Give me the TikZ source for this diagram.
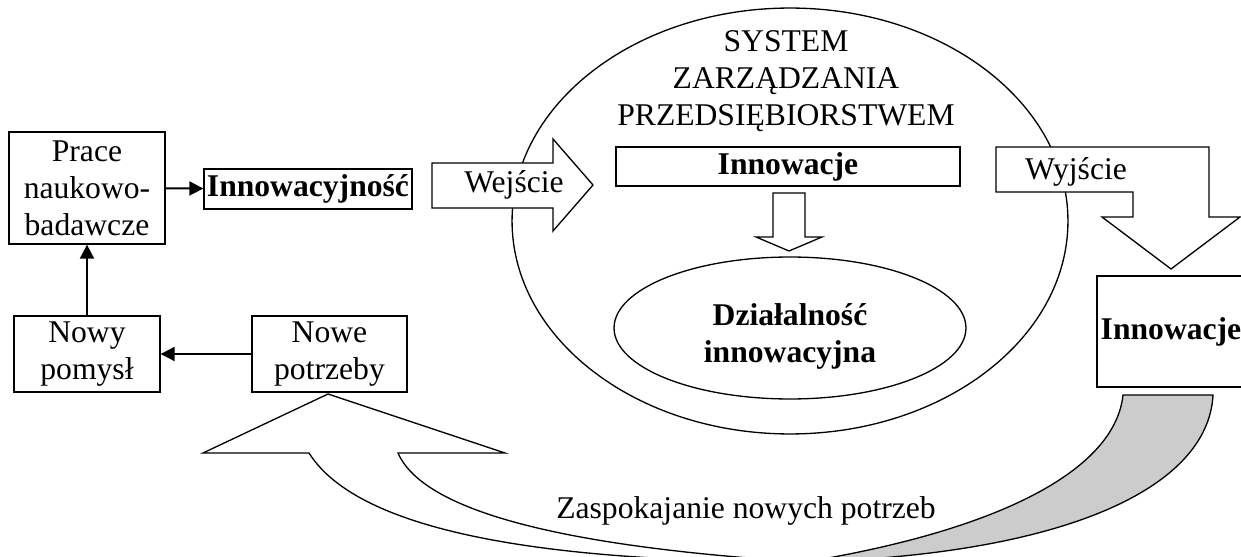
\documentclass[tikz,border=0pt]{standalone}
\usepackage{fontspec}
\setmainfont{Liberation Serif}
\usetikzlibrary{arrows.meta,shapes.geometric}

\tikzset{
  box/.style={draw, line width=0.75pt, fill=white, align=center, inner sep=0pt},
  bold/.style={font=\fontsize{18}{21}\selectfont\bfseries},
  blockarrow/.style={draw, line width=0.75pt, fill=white, line join=miter},
  link/.style={-{Triangle[length=8pt,width=8pt]}, line width=1.1pt},
}

\begin{document}
\begin{tikzpicture}[x=0.02cm, y=-0.02cm, font=\fontsize{18}{21}\selectfont]
\useasboundingbox (0,0) rectangle (1241,557);
\clip (0,0) rectangle (1241,557);

% system
\node[draw, ellipse, line width=0.75pt, minimum width=11.12cm, minimum height=8.52cm, inner sep=0pt] (system) at (790,221) {};
\node[align=center] (systemtitle) at (786,81) {SYSTEM\\ZARZĄDZANIA\\PRZEDSIĘBIORSTWEM};
\node[box, bold, minimum width=6.88cm, minimum height=0.78cm] (innowacje) at (788,166.5) {Innowacje};
\draw[blockarrow] (773,193) -- (805,193) -- (805,237) -- (822,237) -- (789,251) -- (756,237) -- (773,237) -- cycle;
\node[draw, ellipse, line width=0.75pt, minimum width=7.04cm, minimum height=2.84cm, inner sep=0pt] (dzialalnosc) at (790,328) {};
\node[bold, align=center] (dzialalnoscopis) at ([yshift=-0.16cm]dzialalnosc.center) {Działalność\\innowacyjna};

% wejscie / wyjscie
\draw[blockarrow] (432,163) -- (553,163) -- (553,139) -- (593,185) -- (553,231) -- (553,208) -- (432,208) -- cycle;
\node[anchor=base] (wejscie) at (514,193) {Wejście};
\draw[blockarrow] (996,147) -- (1209,147) -- (1209,217) -- (1240,217) -- (1171,269) -- (1102,217) -- (1133,217) -- (1133,192) -- (996,192) -- cycle;
\node[anchor=base] (wyjscie) at (1076,180) {Wyjście};
\node[box, bold, minimum width=2.96cm, minimum height=2.22cm] (innowacjeout) at (1171,331.5) {Innowacje};

% petla
\draw[line width=0.75pt, fill=white, line join=miter] (328,394) -- (505,453) -- (398,453)
  .. controls (425,515) and (580,548) .. (805,562)
  .. controls (590,562) and (365,542) .. (309,453) -- (203,453) -- cycle;
\draw[line width=0.75pt, fill=gray!40] (805,562) .. controls (1000,530) and (1115,470) .. (1123,395)
  -- (1213,395) .. controls (1208,490) and (1060,555) .. (805,562) -- cycle;
\node[anchor=base] (zaspokajanie) at (746,518) {Zaspokajanie nowych potrzeb};

% lewa strona
\node[box, minimum width=3.12cm, minimum height=2.24cm] (prace) at (87,188) {Prace\\naukowo-\\badawcze};
\node[box, bold, minimum width=4.16cm, minimum height=0.8cm] (innowacyjnosc) at (308,189) {Innowacyjność};
\node[box, minimum width=2.92cm, minimum height=1.52cm] (nowy) at (87,354) {Nowy\\pomysł};
\node[box, minimum width=3.1cm, minimum height=1.52cm] (nowe) at (329.5,354) {Nowe\\potrzeby};
\draw[link] (prace) -- (innowacyjnosc);
\draw[link] (nowe) -- (nowy);
\draw[link] (nowy) -- (prace);
\end{tikzpicture}
\end{document}
